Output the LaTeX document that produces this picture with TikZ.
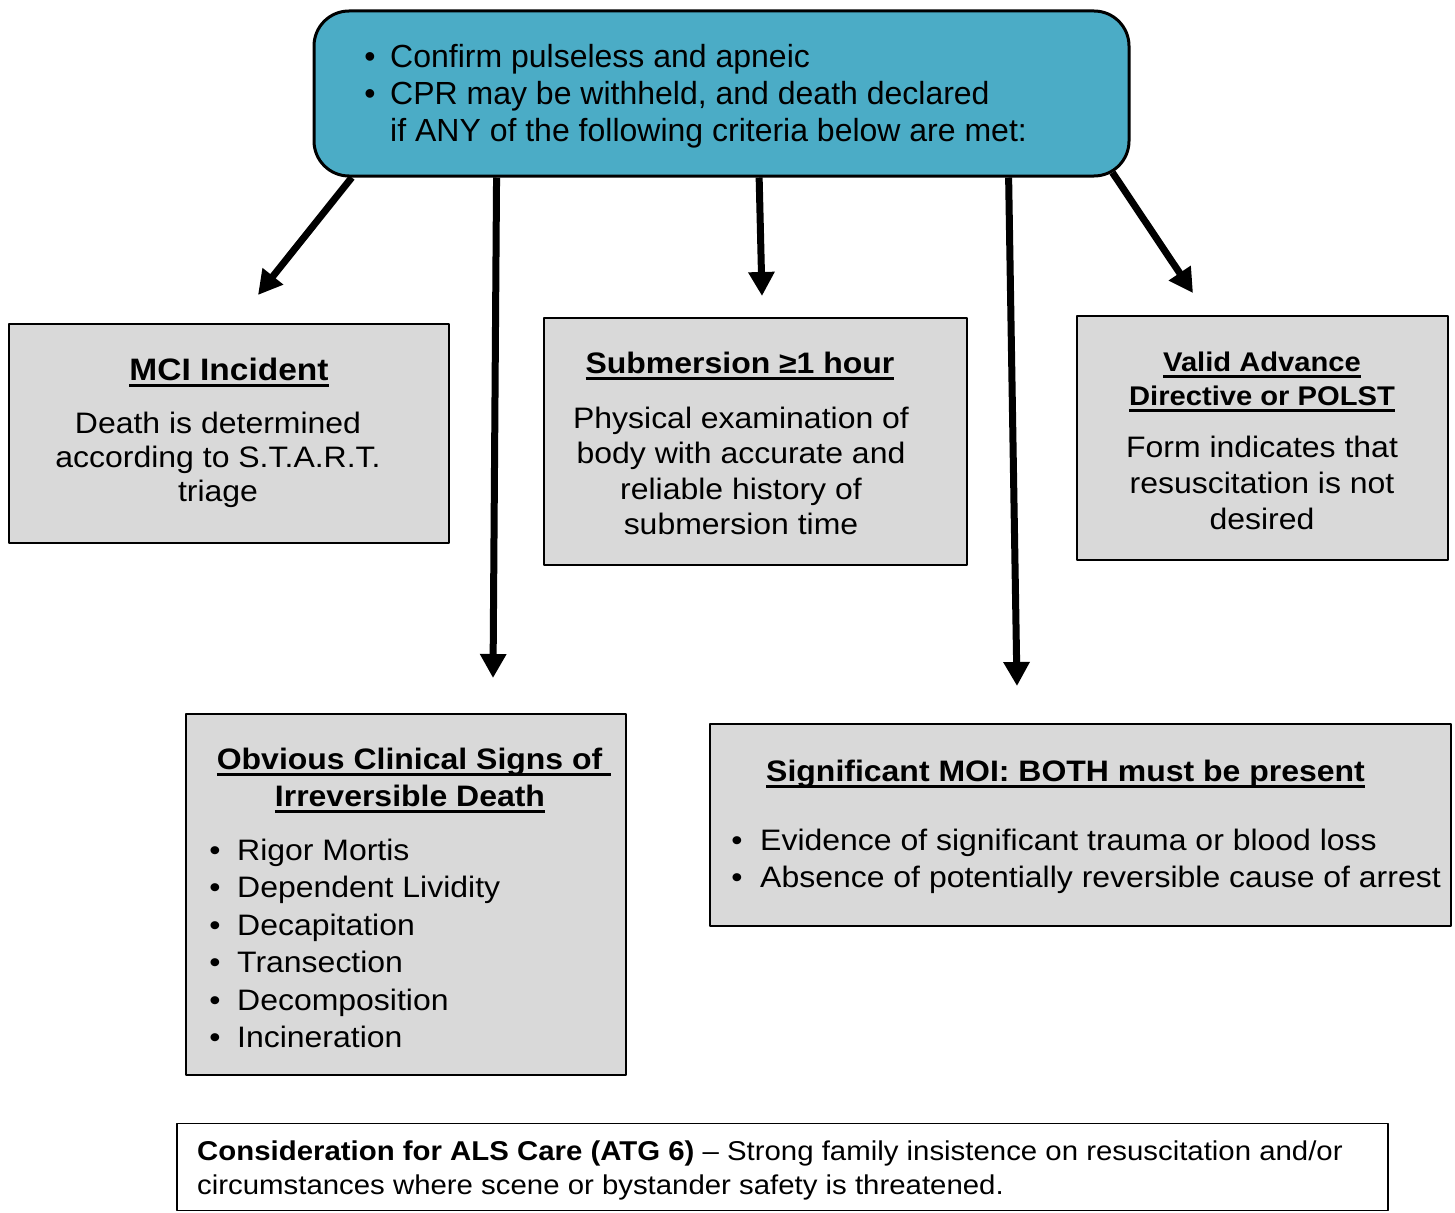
\documentclass[tikz,border=0pt]{standalone}
\usepackage{fontspec}
\setmainfont{Liberation Sans}
\newfontfamily\boxsans[FakeStretch=1.08]{Liberation Sans}
\usetikzlibrary{arrows.meta,calc}

\definecolor{capblue}{HTML}{4BACC6}
\definecolor{cardgray}{HTML}{D9D9D9}

% 下划线：粗细与位置按原图实测
\newcommand\ulbox[1]{\setbox0\hbox{#1}\rlap{\rule[-7pt]{\wd0}{2.8pt}}\box0}

\begin{document}
\begin{tikzpicture}[x=1pt, y=-1pt, line join=round,
  card/.style={draw, fill=cardgray, line width=2.6pt, inner sep=0pt},
  arr/.style={line width=7pt, -{Triangle[length=24pt,width=25pt]}},
  toptxt/.style={anchor=base west, inner sep=0pt, font=\fontsize{32}{38}\selectfont},
  ttl/.style={anchor=base, inner sep=0pt, font=\boxsans\bfseries\fontsize{29.6}{36}\selectfont},
  txt/.style={anchor=base, inner sep=0pt, font=\boxsans\fontsize{29.6}{36}\selectfont},
  txtl/.style={txt, anchor=base west}]

  % 钉死画布（1455×1212）
  \path[use as bounding box, fill=white] (0,0) rectangle (1455,1212);

  % ── 顶部蓝色圆角框 ──
  \node[draw, fill=capblue, line width=3pt, rounded corners=35pt, inner sep=0pt,
        minimum width=815pt, minimum height=165pt] (top) at (721.5,93.5) {};
  \foreach \y/\t [count=\i] in {68/{Confirm pulseless and apneic},
      105/{CPR may be withheld, and death declared}}
    \node[toptxt, anchor=base] (topb\i) at (370,\y) {•};
  \foreach \y/\t [count=\i] in {68/{Confirm pulseless and apneic},
      105/{CPR may be withheld, and death declared},
      142/{if ANY of the following criteria below are met:}}
    \node[toptxt] (topt\i) at (390,\y) {\t};

  % ── 五个灰框（中心、宽、高取自原图）──
  \node[card, minimum width=440pt, minimum height=219pt] (mci) at (229,433.5) {};
  \node[card, minimum width=423pt, minimum height=247pt] (sub) at (755.5,441.5) {};
  \node[card, minimum width=371pt, minimum height=244pt] (valid) at (1262.5,438) {};
  \node[card, minimum width=440pt, minimum height=361pt] (obv) at (406,894.5) {};
  \node[card, minimum width=741pt, minimum height=202pt] (moi) at (1080.5,825) {};
  \node[draw, line width=1.5pt, inner sep=0pt,
        minimum width=1211pt, minimum height=87pt] (als) at (782.5,1167) {};

  % MCI
  \node[ttl, font=\boxsans\bfseries\fontsize{31}{36}\selectfont] (mcih) at (229,380) {\ulbox{MCI Incident}};
  \foreach \y/\t [count=\i] in {433/{Death is determined},
      467/{according to S.T.A.R.T.}, 501/{triage}}
    \node[txt] (mci\i) at (218,\y) {\t};

  % 溺水
  \node[ttl] (subh) at (740,373) {\ulbox{Submersion ≥1 hour}};
  \foreach \y/\t [count=\i] in {428/{Physical examination of},
      463/{body with accurate and}, 499/{reliable history of},
      534/{submersion time}}
    \node[txt] (sub\i) at (741,\y) {\t};

  % 预嘱 / POLST
  \foreach \y/\t [count=\i] in {371/{Valid Advance}, 405/{Directive or POLST}}
    \node[ttl, font=\boxsans\bfseries\fontsize{27}{34}\selectfont] (validh\i) at (1262,\y) {\ulbox{\t}};
  \foreach \y/\t [count=\i] in {457/{Form indicates that},
      493/{resuscitation is not}, 529.5/{desired}}
    \node[txt] (valid\i) at (1262,\y) {\t};

  % 明显死亡征象
  \node[ttl] (obvh1) at (414,769) {\ulbox{Obvious Clinical Signs of\ }};
  \node[ttl] (obvh2) at (410,806) {\ulbox{Irreversible Death}};
  \foreach \y/\t [count=\i] in {860/Rigor Mortis, 897.5/Dependent Lividity,
      935/Decapitation, 972.5/Transection, 1010/Decomposition,
      1047.5/Incineration} {
    \node[txt] (obvb\i) at (215,\y) {•};
    \node[txtl] (obv\i) at (237,\y) {\t};
  }

  % 严重损伤机制
  \node[ttl] (moih) at (1065.5,781) {\ulbox{Significant MOI: BOTH must be present}};
  \foreach \y/\t [count=\i] in {850/{Evidence of significant trauma or blood loss},
      887/{Absence of potentially reversible cause of arrest}} {
    \node[txt] (moib\i) at (737,\y) {•};
    \node[txtl] (moi\i) at (760,\y) {\t};
  }

  % 底部说明框
  \node[txtl, font=\boxsans\fontsize{27.2}{34}\selectfont] (als1) at (197,1160)
    {\textbf{Consideration for ALS Care (ATG 6)} – Strong family insistence on resuscitation and/or};
  \node[txtl, font=\boxsans\fontsize{27.2}{34}\selectfont] (als2) at (197,1194)
    {circumstances where scene or bystander safety is threatened.};

  % ── 箭头：从顶框底边出发，箭尖悬空 ──
  \coordinate (mciin) at (258,295);
  \coordinate (obvin) at (493,678);
  \coordinate (subin) at (762,296);
  \coordinate (moiin) at (1017,686);
  \coordinate (validin) at (1193,293);

  \draw[arr] ($(top.south west)!0.048!(top.south east)$) -- (mciin);
  \draw[arr] ($(top.south west)!0.225!(top.south east)$) -- (obvin);
  \draw[arr] ($(top.south west)!0.546!(top.south east)$) -- (subin);
  \draw[arr] ($(top.south west)!0.851!(top.south east)$) -- (moiin);
  \draw[arr, shorten <=-6pt] ($(top.south west)!0.982!(top.south east)$) -- (validin);
\end{tikzpicture}
\end{document}
